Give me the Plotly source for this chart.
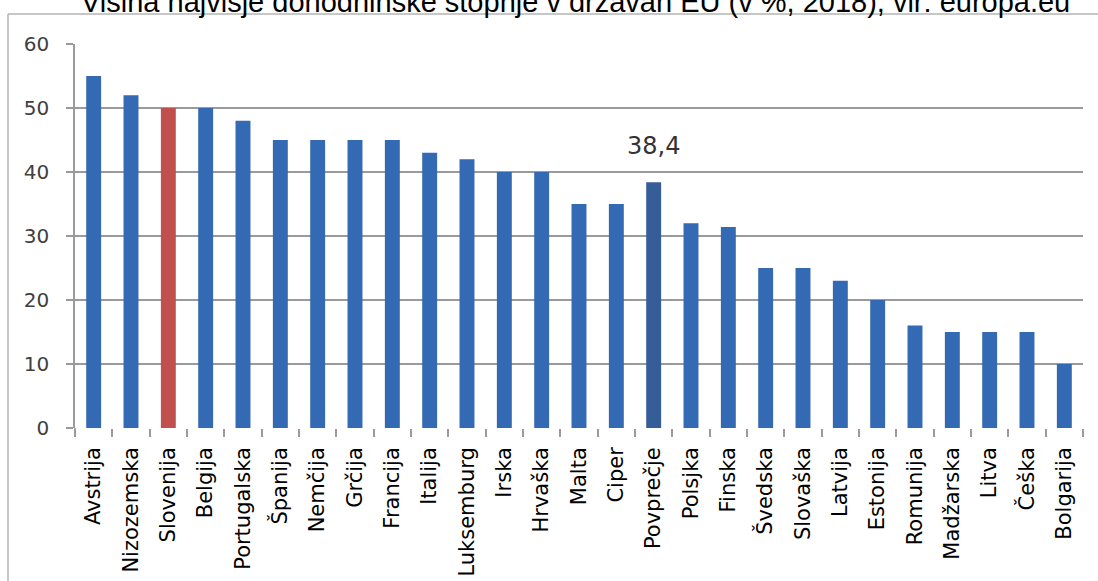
import plotly.graph_objects as go

countries = ["Avstrija", "Nizozemska", "Slovenija", "Belgija", "Portugalska", "Španija",
             "Nemčija", "Grčija", "Francija", "Italija", "Luksemburg", "Irska", "Hrvaška",
             "Malta", "Ciper", "Povprečje", "Polsjka", "Finska", "Švedska", "Slovaška",
             "Latvija", "Estonija", "Romunija", "Madžarska", "Litva", "Češka", "Bolgarija"]
rates = [55, 52, 50, 50, 48, 45, 45, 45, 45, 43, 42, 40, 40,
         35, 35, 38.4, 32, 31.4, 25, 25, 23, 20, 16, 15, 15, 15, 10]
avg_label = "38,4"
title_text = "Višina najvišje dohodninske stopnje v državah EU (v %, 2018), vir: europa.eu"
y_ticks = [0, 10, 20, 30, 40, 50, 60]

BLUE = "#3469b4"
RED = "#c0504d"
DARK = "#355e98"
highlight = {"Slovenija": RED, "Povprečje": DARK}
colors = [highlight.get(c, BLUE) for c in countries]

fig = go.Figure()
fig.add_trace(go.Bar(
    x=countries, y=rates, width=0.4,
    marker=dict(color=colors, line=dict(width=0)),
    showlegend=False,
))

GRID = "#9a9a9a"
fig.update_layout(
    width=1098, height=581,
    margin=dict(l=75, r=15, t=44, b=153, pad=0),
    paper_bgcolor="white", plot_bgcolor="white",
    font=dict(family="DejaVu Sans", color="#000000"),
    xaxis=dict(
        type="category", tickangle=-90, tickfont=dict(size=21, color="#000000"),
        showgrid=False, showline=False, zeroline=False, automargin=False,
        ticks="outside", tickson="boundaries", ticklen=8, tickcolor=GRID, tickwidth=1.5,
        ticklabelstandoff=14,
        range=[-0.5, len(countries) - 0.5],
    ),
    yaxis=dict(
        range=[0, 60], tickvals=y_ticks, tickfont=dict(size=20, color="#404040"),
        showgrid=True, gridcolor=GRID, gridwidth=1.5,
        showline=True, linecolor=GRID, linewidth=1.5, automargin=False,
        ticks="outside", ticklen=7, tickcolor=GRID, tickwidth=1.5,
        ticklabelstandoff=13, zeroline=False,
    ),
    bargap=0.6,
)

# average value label
fig.add_annotation(
    x="Povprečje", y=rates[countries.index("Povprečje")], text=avg_label,
    showarrow=False, yanchor="bottom", yshift=20,
    font=dict(family="DejaVu Sans", size=24, color="#333333"),
)

# title (partly clipped at the top like in the reference)
fig.add_annotation(
    xref="paper", yref="paper", x=(575 - 75) / 1008, y=(428 - 20) / 384,
    text=title_text, showarrow=False, xanchor="center", yanchor="bottom",
    font=dict(family="Liberation Sans", size=29, color="#000000"),
)

def px_x(px):
    return (px - 75) / 1008

def px_y(py):
    return (428 - py) / 384

# outer chart frame lines (left and top)
FRAME = "#b4b4b4"
fig.add_shape(type="line", xref="paper", yref="paper",
              x0=px_x(8), x1=px_x(8), y0=px_y(14), y1=px_y(581),
              line=dict(color=FRAME, width=1.5))
fig.add_shape(type="line", xref="paper", yref="paper",
              x0=px_x(8), x1=px_x(1098), y0=px_y(14), y1=px_y(14),
              line=dict(color=FRAME, width=1.5))
# y-axis line continues slightly below zero
fig.add_shape(type="line", xref="paper", yref="paper",
              x0=0, x1=0, y0=0, y1=px_y(437),
              line=dict(color=GRID, width=1.5))

fig.write_html("out.html")
